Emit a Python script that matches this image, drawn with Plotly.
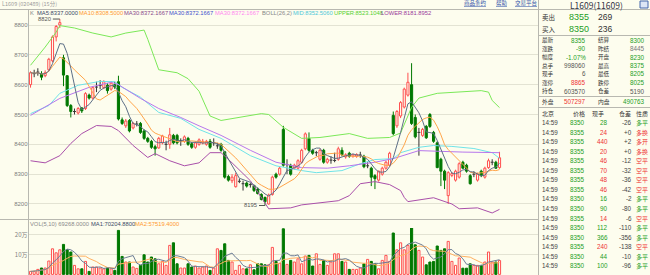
import plotly.graph_objects as go
import pandas as pd

W, H = 650, 275

# ---------------- data (15-minute K-line, L1609) ----------------
opens = [8600, 8637, 8642, 8635, 8630, 8650, 8680, 8760, 8800, 8690,
         8630, 8530, 8510, 8505, 8522, 8520, 8565, 8555, 8592, 8597,
         8590, 8598, 8585, 8600, 8610, 8482, 8462, 8480, 8455, 8468,
         8470, 8445, 8420, 8410, 8392, 8388, 8405, 8400, 8400, 8430,
         8430, 8412, 8410, 8420, 8402, 8390, 8400, 8405, 8400, 8410,
         8405, 8395, 8400, 8375, 8292, 8278, 8258, 8276, 8268, 8270,
         8265, 8262, 8250, 8232, 8222, 8200, 8232, 8300, 8300, 8450,
         8332, 8330, 8320, 8320, 8340, 8385, 8420, 8380, 8372, 8350,
         8380, 8340, 8347, 8346, 8350, 8380, 8358, 8370, 8360, 8360,
         8364, 8360, 8328, 8320, 8295, 8280, 8300, 8320, 8330, 8497,
         8462, 8495, 8525, 8565, 8600, 8490, 8440, 8430, 8460, 8500,
         8440, 8405, 8350, 8310, 8228, 8296, 8280, 8290, 8340, 8330,
         8295, 8300, 8280, 8310, 8290, 8322, 8340, 8340, 8322]
highs = [8645, 8650, 8655, 8645, 8648, 8690, 8765, 8800, 8820, 8700,
         8632, 8535, 8520, 8525, 8525, 8575, 8570, 8595, 8610, 8615,
         8615, 8605, 8612, 8610, 8630, 8490, 8485, 8485, 8475, 8478,
         8475, 8450, 8425, 8415, 8398, 8425, 8432, 8412, 8455, 8435,
         8435, 8420, 8430, 8425, 8408, 8410, 8420, 8418, 8415, 8418,
         8420, 8405, 8405, 8378, 8298, 8300, 8305, 8285, 8278, 8275,
         8270, 8265, 8255, 8236, 8225, 8235, 8295, 8305, 8325, 8462,
         8350, 8335, 8335, 8350, 8385, 8440, 8440, 8385, 8378, 8385,
         8385, 8355, 8360, 8372, 8392, 8390, 8370, 8375, 8368, 8370,
         8375, 8365, 8340, 8325, 8300, 8312, 8325, 8345, 8375, 8510,
         8515, 8545, 8590, 8640, 8672, 8500, 8455, 8455, 8465, 8505,
         8445, 8410, 8355, 8315, 8310, 8306, 8315, 8340, 8345, 8335,
         8300, 8310, 8305, 8315, 8325, 8352, 8350, 8345, 8375]
lows = [8590, 8625, 8630, 8615, 8625, 8645, 8675, 8745, 8790, 8595,
        8525, 8490, 8500, 8500, 8505, 8515, 8550, 8550, 8575, 8585,
        8585, 8570, 8580, 8585, 8480, 8465, 8455, 8440, 8450, 8460,
        8435, 8415, 8405, 8385, 8362, 8385, 8400, 8380, 8385, 8400,
        8400, 8395, 8405, 8395, 8385, 8385, 8395, 8400, 8395, 8385,
        8395, 8385, 8375, 8285, 8275, 8270, 8255, 8270, 8245, 8255,
        8255, 8240, 8232, 8212, 8195, 8198, 8228, 8285, 8295, 8325,
        8300, 8295, 8315, 8315, 8335, 8380, 8375, 8365, 8360, 8345,
        8335, 8335, 8335, 8340, 8345, 8360, 8352, 8355, 8355, 8355,
        8355, 8320, 8320, 8260, 8250, 8275, 8295, 8315, 8325, 8430,
        8455, 8488, 8520, 8560, 8465, 8420, 8362, 8425, 8418, 8455,
        8405, 8320, 8260, 8250, 8200, 8290, 8275, 8285, 8318, 8305,
        8265, 8290, 8275, 8290, 8285, 8318, 8330, 8318, 8318]
closes = [8640, 8637, 8642, 8625, 8640, 8685, 8760, 8795, 8808, 8632,
          8530, 8510, 8510, 8520, 8512, 8570, 8555, 8590, 8592, 8597,
          8610, 8580, 8605, 8592, 8485, 8470, 8478, 8445, 8470, 8468,
          8440, 8420, 8410, 8390, 8385, 8420, 8428, 8400, 8432, 8405,
          8405, 8412, 8425, 8400, 8390, 8405, 8415, 8410, 8410, 8390,
          8405, 8395, 8380, 8290, 8280, 8290, 8295, 8276, 8268, 8260,
          8265, 8245, 8235, 8215, 8208, 8230, 8290, 8290, 8320, 8330,
          8332, 8300, 8330, 8345, 8380, 8435, 8380, 8370, 8372, 8380,
          8340, 8350, 8347, 8346, 8385, 8365, 8365, 8360, 8365, 8366,
          8364, 8325, 8328, 8290, 8285, 8310, 8320, 8340, 8370, 8436,
          8510, 8540, 8585, 8608, 8470, 8425, 8440, 8450, 8422, 8460,
          8410, 8322, 8310, 8280, 8305, 8302, 8310, 8335, 8320, 8310,
          8268, 8300, 8300, 8295, 8320, 8345, 8340, 8320, 8355]
volumes = [15000, 15000, 25000, 32000, 32000, 67000, 128000, 108000, 123000, 150000,
           123000, 112000, 45000, 28000, 28000, 65000, 15000, 37000, 37000, 32000,
           28000, 32000, 28000, 20000, 220000, 90000, 62000, 62000, 37000, 30000,
           45000, 98000, 62000, 87000, 78000, 53000, 65000, 45000, 145000, 158000,
           53000, 32000, 32000, 53000, 37000, 42000, 32000, 37000, 42000, 20000,
           32000, 128000, 120000, 153000, 70000, 62000, 20000, 45000, 28000, 28000,
           48000, 23000, 53000, 53000, 48000, 48000, 135000, 65000, 55000, 228000,
           50000, 70000, 62000, 78000, 53000, 92000, 95000, 42000, 103000, 50000,
           70000, 45000, 62000, 103000, 103000, 65000, 62000, 25000, 25000, 25000,
           32000, 53000, 75000, 65000, 53000, 28000, 70000, 95000, 65000, 207000,
           123000, 158000, 123000, 145000, 233000, 148000, 120000, 87000, 48000, 62000,
           65000, 142000, 120000, 128000, 165000, 65000, 45000, 82000, 31000, 31000,
           53000, 45000, 45000, 45000, 62000, 112000, 62000, 62000, 69268]

# Bollinger / MA30 lines (candle index -> value)
upper_idx = [0, 4, 7, 8, 12, 17, 22, 26, 31, 32, 35, 40, 43, 46, 49, 52, 63, 65, 69, 74,
             79, 87, 92, 98, 101, 104, 106, 111, 123, 125, 126, 128]
upper_val = [8665, 8726, 8776, 8798, 8790, 8773, 8760, 8773, 8783, 8752, 8650, 8640, 8620,
             8578, 8495, 8480, 8503, 8500, 8457, 8420, 8423, 8436, 8420, 8423, 8438, 8524,
             8555, 8571, 8580, 8575, 8547, 8523]
mid_idx = [0, 5, 8, 13, 19, 23, 25, 30, 35, 41, 46, 52, 60, 67, 74, 78, 85, 90, 94, 99,
           101, 106, 110, 115, 121, 126, 128]
mid_val = [8503, 8530, 8571, 8598, 8611, 8610, 8591, 8558, 8507, 8487, 8450, 8420, 8362,
           8328, 8312, 8305, 8312, 8335, 8349, 8352, 8372, 8390, 8396, 8393, 8386, 8372, 8353]
ma30_idx = [0, 8, 16, 22, 24, 30, 35, 41, 46, 52, 60, 67, 74, 81, 87, 94, 99, 106, 118, 128]
ma30_val = [8497, 8554, 8591, 8608, 8600, 8554, 8520, 8490, 8462, 8430, 8380, 8340, 8322,
            8320, 8328, 8340, 8352, 8379, 8374, 8372]
lower_idx = [0, 4, 8, 11, 14, 18, 22, 24, 28, 32, 34, 38, 42, 46, 49, 52, 55, 60, 65, 71,
             74, 84, 87, 90, 94, 98, 101, 102, 103, 110, 115, 117, 122, 126, 128]
lower_val = [8345, 8338, 8362, 8403, 8436, 8463, 8460, 8446, 8396, 8356, 8369, 8345, 8328,
             8338, 8372, 8372, 8338, 8278, 8184, 8187, 8197, 8211, 8228, 8268, 8275, 8265,
             8245, 8222, 8208, 8221, 8200, 8184, 8187, 8170, 8182]

price_ticks = [8200, 8300, 8400, 8500, 8600, 8700, 8800]
vol_ticks = [100000, 200000]
vol_tick_text = ["10万", "20万"]

# right panel
quote_labels_l = ["最新", "涨跌", "幅度", "总手", "现手", "涨停", "持仓"]
quote_values_l = ["8355", "-90", "-1.07%", "998060", "6", "8865", "603570"]
quote_labels_r = ["结算", "昨结", "开盘", "最高", "最低", "跌停", "仓差"]
quote_values_r = ["8300", "8445", "8230", "8375", "8205", "8025", "5190"]
trade_time = ["14:59"] * 16
trade_price = [8350, 8355, 8355, 8355, 8355, 8355, 8355, 8355,
               8350, 8350, 8355, 8350, 8350, 8355, 8350, 8350]
trade_vol = [28, 24, 440, 20, 46, 70, 48, 46, 16, 90, 14, 112, 366, 240, 44, 100]
trade_oi = ["-26", "+0", "+2", "+0", "-12", "-32", "-36", "-42", "-2", "-80",
            "-6", "-110", "-356", "-138", "-10", "-96"]
trade_type = ["多平", "多换", "多开", "多换", "空平", "空平", "空平", "空平",
              "多平", "多平", "空平", "多平", "多平", "空平", "多平", "多平"]

# ---------------- style ----------------
BG = "#fdfdee"
RED = "#ff4f4f"
GREEN = "#007800"
FLAT = "#333333"
GRID = "#e3e3d3"
AXIS = "#b8b8b0"
TXT = "#808080"
NUM_GREEN = "#1e9e1e"
NUM_RED = "#ee3333"
FONT = "Liberation Sans"
CJK = "Noto Sans CJK SC"

idx = list(range(len(closes)))
up = [i for i in idx if closes[i] > opens[i]]
dn = [i for i in idx if closes[i] < opens[i]]
fl = [i for i in idx if closes[i] == opens[i]]

fig = go.Figure()


def wicks(ids, color):
    xs, ys = [], []
    for i in ids:
        top = max(opens[i], closes[i])
        bot = min(opens[i], closes[i])
        xs += [i, i, None, i, i, None]
        ys += [highs[i], top, None, bot, lows[i], None]
    fig.add_trace(go.Scatter(x=xs, y=ys, mode="lines", line=dict(color=color, width=1),
                             hoverinfo="skip", showlegend=False, yaxis="y"))


close_s = pd.Series(closes)
ma5 = close_s.rolling(5, min_periods=1).mean()
ma10 = close_s.rolling(10, min_periods=1).mean()
line_specs = [
    (lower_idx, lower_val, "#a94fa9"),
    (upper_idx, upper_val, "#7be858"),
    (mid_idx, mid_val, "#6fe3e8"),
    (ma30_idx, ma30_val, "#b777ec"),
    (idx, list(ma10), "#ffa54a"),
    (idx, list(ma5), "#5d6f86"),
]

# candle bodies
fig.add_trace(go.Bar(x=up, y=[closes[i] - opens[i] for i in up], base=[opens[i] for i in up],
                     width=0.58, marker=dict(color=BG, line=dict(color=RED, width=1)),
                     showlegend=False, hoverinfo="skip", yaxis="y"))
fig.add_trace(go.Bar(x=dn, y=[opens[i] - closes[i] for i in dn], base=[closes[i] for i in dn],
                     width=0.58, marker=dict(color=GREEN, line=dict(color=GREEN, width=1)),
                     showlegend=False, hoverinfo="skip", yaxis="y"))
wicks(up, RED)
wicks(dn, GREEN)
wicks(fl, FLAT)
fx, fy = [], []
for i in fl:
    fx += [i - 0.4, i + 0.4, None]
    fy += [opens[i], opens[i], None]
fig.add_trace(go.Scatter(x=fx, y=fy, mode="lines", line=dict(color=FLAT, width=1),
                         hoverinfo="skip", showlegend=False, yaxis="y"))

for xs, ys, col in line_specs:
    fig.add_trace(go.Scatter(x=xs, y=ys, mode="lines", line=dict(color=col, width=1),
                             hoverinfo="skip", showlegend=False, yaxis="y"))

# volume
vup = [i for i in idx if closes[i] >= opens[i]]
vdn = [i for i in idx if closes[i] < opens[i]]
fig.add_trace(go.Bar(x=vup, y=[volumes[i] for i in vup], width=0.58,
                     marker=dict(color=BG, line=dict(color=RED, width=1)),
                     showlegend=False, hoverinfo="skip", yaxis="y2"))
fig.add_trace(go.Bar(x=vdn, y=[volumes[i] for i in vdn], width=0.58,
                     marker=dict(color=GREEN, line=dict(color=GREEN, width=1)),
                     showlegend=False, hoverinfo="skip", yaxis="y2"))
vol_s = pd.Series(volumes)
fig.add_trace(go.Scatter(x=idx, y=list(vol_s.rolling(10, min_periods=1).mean()), mode="lines",
                         line=dict(color="#ffb060", width=1), hoverinfo="skip",
                         showlegend=False, yaxis="y2"))
fig.add_trace(go.Scatter(x=idx, y=list(vol_s.rolling(5, min_periods=1).mean()), mode="lines",
                         line=dict(color="#6d7e96", width=1), hoverinfo="skip",
                         showlegend=False, yaxis="y2"))


# ---------------- helpers ----------------
def px(x):
    return x / W


def py(y):
    return 1 - y / H


annotations = []


def text(x, y, s, color=TXT, size=6, anchor="left", family=FONT):
    annotations.append(dict(x=px(x), y=py(y), xref="paper", yref="paper", text=s,
                            showarrow=False, xanchor=anchor, yanchor="middle",
                            font=dict(family=family, size=size, color=color), borderpad=0))


shapes = []


def hline(x0, x1, y, color=AXIS, width=1):
    shapes.append(dict(type="line", xref="paper", yref="paper", x0=px(x0), x1=px(x1),
                       y0=py(y), y1=py(y), line=dict(color=color, width=width)))


def vline(x, y0, y1, color=AXIS, width=1):
    shapes.append(dict(type="line", xref="paper", yref="paper", x0=px(x), x1=px(x),
                       y0=py(y0), y1=py(y1), line=dict(color=color, width=width)))


# frame lines
hline(0, 650, 9.5)
hline(0, 538, 219.5)
vline(28.5, 9.5, 275)
vline(538.5, 0, 275)

# top strip
text(1, 4, "L1609 (020489) (15分)", "#9a9a9a", 5.5, family=CJK)
text(463, 3, "<u>商品条约</u>", "#3355aa", 5.5, family=CJK)
text(495, 3, "<u>帮助</u>", "#3355aa", 5.5, family=CJK)
text(514, 3, "<u>交易平台</u>", "#3355aa", 5.5, family=CJK)

# indicator header
text(29, 13, "K", "#888888", 5.8)
text(36, 13, "MA5:8337.0000", "#3c4a66", 5.8)
text(78, 13, "MA10:8308.5000", "#ff9a30", 5.8)
text(123, 13, "MA30:8372.1667", "#8a4a8a", 5.8)
text(168, 13, "MA30:8372.1667", "#4450cc", 5.8)
text(214, 13, "MA30:8372.1667", "#ff88ee", 5.8)
text(261, 13, "BOLL(26,2)", "#888888", 5.8)
text(292, 13, "MID:8352.5060", "#4cc8d8", 5.8)
text(333, 13, "UPPER:8523.1048", "#55d030", 5.8)
text(380, 13, "LOWER:8181.8952", "#9a3a9a", 5.8)

# volume header
text(29, 224, "VOL(5,10) 69268.0000", "#8a8a8a", 5.8)
text(90, 224, "MA1:70204.8800", "#3c4a66", 5.8)
text(134, 224, "MA2:57519.4000", "#ff9a30", 5.8)

# high / low marks
annotations.append(dict(x=8, y=8820, xref="x", yref="y", text="8820", showarrow=True,
                        arrowhead=0, arrowwidth=1, arrowcolor="#555555", ax=-7, ay=0,
                        xanchor="right", font=dict(family=FONT, size=5.8, color="#555555")))
annotations.append(dict(x=64, y=8195, xref="x", yref="y", text="8195", showarrow=True,
                        arrowhead=0, arrowwidth=1, arrowcolor="#555555", ax=-6, ay=0,
                        xanchor="right", font=dict(family=FONT, size=5.8, color="#555555")))

# ---------------- right panel ----------------
text(596, 5, "L1609(11609)", "#333344", 8.5, "center", CJK)
shapes.append(dict(type="rect", xref="paper", yref="paper", x0=px(640), x1=px(648),
                   y0=py(1), y1=py(8), line=dict(color="#4466aa", width=1), fillcolor="#dde6f5"))
text(541, 17, "卖出", "#333333", 6.5, "left", CJK)
text(568, 17, "8355", NUM_GREEN, 9, "left", FONT)
text(597, 17, "269", "#333333", 8.5, "left", FONT)
text(541, 29, "买入", "#333333", 6.5, "left", CJK)
text(568, 29, "8350", NUM_GREEN, 9, "left", FONT)
text(597, 29, "236", "#333333", 8.5, "left", FONT)
hline(538, 650, 35.5)

row_y = [40, 48.5, 57, 65.5, 74, 82.5, 91]
val_l_colors = [NUM_GREEN, NUM_GREEN, NUM_GREEN, "#555555", "#555555", NUM_RED, "#555555"]
val_r_colors = [NUM_GREEN, "#777777", NUM_GREEN, NUM_GREEN, NUM_GREEN, NUM_GREEN, "#555555"]
for k in range(len(quote_labels_l)):
    text(541, row_y[k], quote_labels_l[k], "#333333", 5.6, "left", CJK)
    text(587, row_y[k], quote_values_l[k], val_l_colors[k], 6.3, "right", FONT)
    text(597, row_y[k], quote_labels_r[k], "#333333", 5.6, "left", CJK)
    text(646, row_y[k], quote_values_r[k], val_r_colors[k], 6.3, "right", FONT)
hline(538, 650, 96.5)
text(541, 102, "外盘", "#333333", 5.8, "left", CJK)
text(587, 102, "507297", NUM_RED, 6.3, "right", FONT)
text(597, 102, "内盘", "#333333", 5.8, "left", CJK)
text(646, 102, "490763", NUM_GREEN, 6.3, "right", FONT)
hline(538, 650, 107.5)
text(541, 113, "北京", "#333333", 6, "left", CJK)
text(572, 113, "价格", "#333333", 6, "left", CJK)
text(591, 113, "现手", "#333333", 6, "left", CJK)
text(618, 113, "仓差", "#333333", 6, "left", CJK)
text(635, 113, "性质", "#333333", 6, "left", CJK)
for k in range(len(trade_time)):
    yy = 122.5 + k * 9.55
    buy = trade_type[k] != "多平"
    col = NUM_RED if buy else NUM_GREEN
    text(541, yy, trade_time[k], "#444444", 6.3, "left", FONT)
    text(586, yy, str(trade_price[k]), NUM_GREEN, 6.3, "right", FONT)
    text(609, yy, str(trade_vol[k]), col, 6.3, "right", FONT)
    text(633, yy, trade_oi[k], "#444444", 6.3, "right", FONT)
    text(635, yy, trade_type[k], col, 6, "left", CJK)

fig.update_layout(
    width=W, height=H, margin=dict(l=0, r=0, t=0, b=0),
    template="none", paper_bgcolor=BG, plot_bgcolor=BG,
    barmode="overlay", showlegend=False, hovermode=False,
    xaxis=dict(domain=[28.5 / W, 538 / W], range=[-0.55, 138.5], showgrid=False,
               showticklabels=False, zeroline=False, showline=False, anchor="y2",
               automargin=False, fixedrange=True),
    yaxis=dict(domain=[(H - 219) / H, (H - 10) / H], range=[8149.7, 8850.3],
               tickvals=price_ticks, ticktext=[str(v) for v in price_ticks],
               ticks="", tickfont=dict(family=FONT, size=6, color=TXT),
               showgrid=True, gridcolor=GRID, gridwidth=1, zeroline=False, showline=False,
               anchor="x", automargin=False, fixedrange=True),
    yaxis2=dict(domain=[0, 47 / H], range=[-3000, 232000],
                tickvals=vol_ticks, ticktext=vol_tick_text,
                ticks="", tickfont=dict(family=CJK, size=6, color=TXT),
                showgrid=True, gridcolor=GRID, gridwidth=1, zeroline=False, showline=False,
                anchor="x", automargin=False, fixedrange=True),
    annotations=annotations, shapes=shapes,
)

fig.write_html("out.html")
